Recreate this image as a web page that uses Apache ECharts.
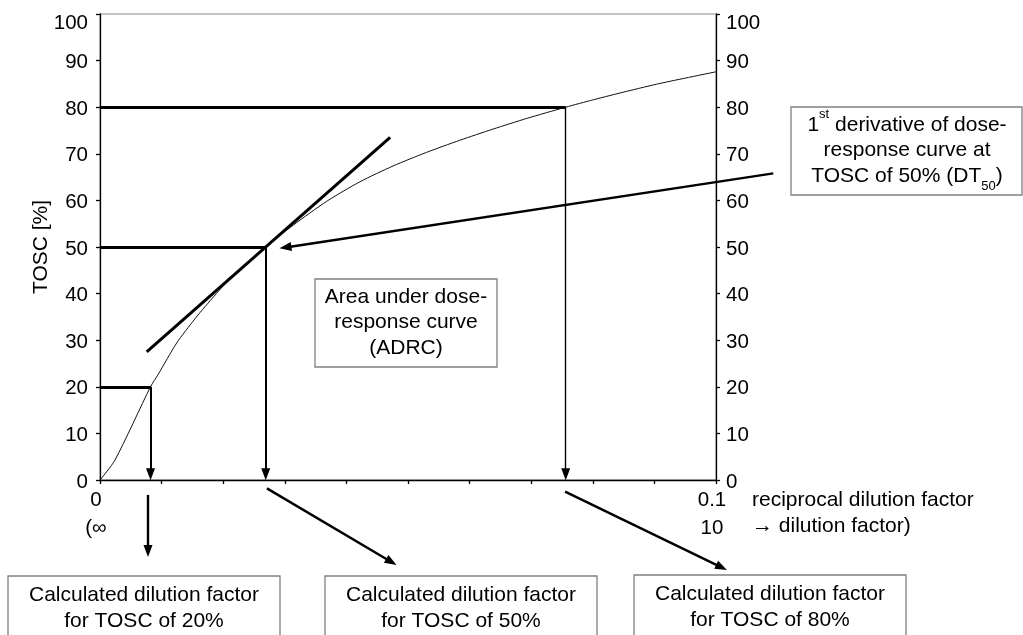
<!DOCTYPE html>
<html>
<head>
<meta charset="utf-8">
<script src="https://cdn.jsdelivr.net/npm/echarts@6/dist/echarts.min.js"></script>
<style>
  html, body { margin: 0; padding: 0; background: #fff; }
  #chart { width: 1023px; height: 635px; }
</style>
</head>
<body>
<div id="chart"></div>
<script>
// Dose-response curve: TOSC [%] against the reciprocal dilution factor
const doseX = [0, 0.00244, 0.0082, 0.00946, 0.01245, 0.01542, 0.01705, 0.02083, 0.0269, 0.03138,
  0.0368, 0.0422, 0.0476, 0.0530, 0.0584, 0.0638, 0.0693, 0.0756, 0.0801, 0.0855, 0.0909, 0.1];
const tosc = [0, 4.3, 20, 22.7, 29.4, 34.6, 37.2, 42.8, 50, 54.7,
  59.8, 64.0, 67.4, 70.3, 72.9, 75.3, 77.6, 80, 81.6, 83.4, 85.1, 87.6];

// TOSC levels and the reciprocal dilution factors where the curve reaches them
const levels = [20, 50, 80];
const levelX = [0.0082, 0.0269, 0.0756];
const dropWidths = [2, 2, 1.4];
const arrowTipGap = 1.25;   // arrow ends stop short of y=0 by half a head

// tangent (1st derivative) at TOSC 50%
const tangentStart = [0.00758, 27.5];
const tangentEnd = [0.0471, 73.5];

// pointer from the DT50 note to the 50% point
const dtArrowFrom = [0.1093, 65.8];
const dtArrowTo = [0.0301, 49.9];

// pointers from the x axis down to the result boxes
const resultArrows = [
  [[0.00779, -3.2], [0.00779, -15.25]],
  [[0.0271, -1.8], [0.0473, -17.6]],
  [[0.0755, -2.5], [0.1009, -18.76]]
];

// axis texts
const yTickTop = 100;
const xLabelValues = [0, 0.1];
const xLabelTop = ['0', '0.1'];
const xLabelBottom = ['(\u221E', '10'];
const xTitle = ['reciprocal dilution factor', '\u2192 dilution factor)'];
const yTitle = 'TOSC [%]';

// note texts
const noteDT = ['1{sup|st} derivative of dose-', 'response curve at', 'TOSC of 50% (DT{sub|50})'];
const noteArea = ['Area under dose-', 'response curve', '(ADRC)'];
const noteResults = [
  ['Calculated dilution factor', 'for TOSC of 20%'],
  ['Calculated dilution factor', 'for TOSC of 50%'],
  ['Calculated dilution factor', 'for TOSC of 80%']
];

const FONT = '"Liberation Sans", Arial, Helvetica, sans-serif';
const INK = '#000';
const BOX = '#808080';

const chart = echarts.init(document.getElementById('chart'), null, { renderer: 'canvas' });

const curveData = doseX.map((x, i) => [x, tosc[i]]);

const plainSegments = levels.map((v, i) => ({
  coords: [[0, v], [levelX[i], v]], lineStyle: { width: 3 }
}));
plainSegments.push({ coords: [tangentStart, tangentEnd], lineStyle: { width: 3 } });

const arrowSegments = levels.map((v, i) => ({
  coords: [[levelX[i], v], [levelX[i], arrowTipGap]], lineStyle: { width: dropWidths[i] }
}));
arrowSegments.push({ coords: [dtArrowFrom, dtArrowTo], lineStyle: { width: 2.4 } });
resultArrows.forEach(c => arrowSegments.push({ coords: c, lineStyle: { width: 2.4 } }));

const tickLabelStyle = {
  color: INK, fontSize: 20.5, fontFamily: FONT, padding: [4, 0, 0, 0],
  formatter: function (v) { return v === yTickTop ? '{top|' + v + '}' : String(v); },
  rich: { top: { fontSize: 20.5, fontFamily: FONT, color: INK, padding: [14, 0, 0, 0] } }
};

const yAxisBase = {
  type: 'value', min: 0, max: 100, interval: 10,
  axisLine: { show: true, lineStyle: { color: INK, width: 1.3 } },
  axisTick: { show: true, inside: false, length: 4, lineStyle: { color: INK, width: 1.3 } },
  splitLine: { show: false }
};

function textEl(x, y, text, extra) {
  return {
    type: 'text', x: x, y: y, z: 110, silent: true,
    style: Object.assign({
      text: text, fill: INK, fontSize: 21, fontFamily: FONT,
      align: 'center', verticalAlign: 'middle'
    }, extra || {})
  };
}
function boxEl(x, y, w, h) {
  return {
    type: 'rect', z: 100, silent: true,
    shape: { x: x, y: y, width: w, height: h },
    style: { fill: '#fff', stroke: BOX, lineWidth: 1.3 }
  };
}

const graphics = [];
// DT50 note
graphics.push(boxEl(791, 107, 231, 88));
const dtRich = {
  sup: { fontSize: 13, fontFamily: FONT, fill: INK, lineHeight: 18, verticalAlign: 'top' },
  sub: { fontSize: 13, fontFamily: FONT, fill: INK, lineHeight: 10, verticalAlign: 'bottom' }
};
[125, 150, 176].forEach((y, i) => graphics.push(textEl(907, y, noteDT[i], { lineHeight: 34, rich: dtRich })));
// ADRC note
graphics.push(boxEl(315, 279, 182, 88));
[297, 322, 348].forEach((y, i) => graphics.push(textEl(406, y, noteArea[i])));
// result boxes
const resultBoxes = [[8, 576, 144, [595, 621]], [325, 576, 461, [595, 621]], [634, 575, 770, [594, 620]]];
resultBoxes.forEach((b, i) => {
  graphics.push(boxEl(b[0], b[1], 272, 90));
  b[3].forEach((y, j) => graphics.push(textEl(b[2], y, noteResults[i][j])));
});
// x axis title
graphics.push(textEl(752, 500, xTitle[0], { align: 'left' }));
graphics.push(textEl(752, 526, xTitle[1], { align: 'left' }));

const option = {
  animation: false,
  backgroundColor: '#fff',
  grid: {
    left: 100, right: 307, top: 14, bottom: 155,
    show: true, borderColor: '#888', borderWidth: 1, backgroundColor: 'transparent',
    containLabel: false, outerBoundsMode: 'none'
  },
  xAxis: {
    type: 'value', min: 0, max: 0.1, interval: 0.01,
    axisLine: { show: true, onZero: false, lineStyle: { color: INK, width: 1.3 } },
    axisTick: { show: true, inside: false, length: 4, lineStyle: { color: INK, width: 1.3 } },
    splitLine: { show: false },
    axisLabel: {
      color: INK, fontSize: 20.5, fontFamily: FONT, lineHeight: 28, margin: 6,
      padding: [0, 8, 0, 0],
      showMinLabel: true, showMaxLabel: true,
      formatter: function (v) {
        const i = xLabelValues.findIndex(t => Math.abs(t - v) < 1e-9);
        return i < 0 ? '' : xLabelTop[i] + '\n' + xLabelBottom[i];
      }
    }
  },
  yAxis: [
    Object.assign({}, yAxisBase, {
      position: 'left',
      name: yTitle, nameLocation: 'middle', nameGap: 48, nameRotate: 90,
      nameMoveOverlap: false,
      nameTextStyle: { color: INK, fontSize: 21, fontFamily: FONT },
      axisLabel: Object.assign({}, tickLabelStyle, { margin: 12 })
    }),
    Object.assign({}, yAxisBase, {
      position: 'right',
      axisLabel: Object.assign({}, tickLabelStyle, { margin: 10 })
    })
  ],
  series: [
    {
      name: 'TOSC',
      type: 'line',
      data: curveData,
      smooth: 0.25,
      showSymbol: false,
      lineStyle: { color: '#111', width: 1 },
      silent: true,
      z: 3
    },
    {
      type: 'lines',
      coordinateSystem: 'cartesian2d',
      clip: false,
      silent: true,
      symbol: ['none', 'none'],
      lineStyle: { color: INK, opacity: 1, curveness: 0 },
      data: plainSegments,
      z: 4
    },
    {
      type: 'lines',
      coordinateSystem: 'cartesian2d',
      clip: false,
      silent: true,
      symbol: ['none', 'triangle'],
      symbolSize: [0, [9, 12]],
      lineStyle: { color: INK, opacity: 1, curveness: 0 },
      data: arrowSegments,
      z: 5
    }
  ],
  graphic: graphics
};

chart.setOption(option);
</script>
</body>
</html>
